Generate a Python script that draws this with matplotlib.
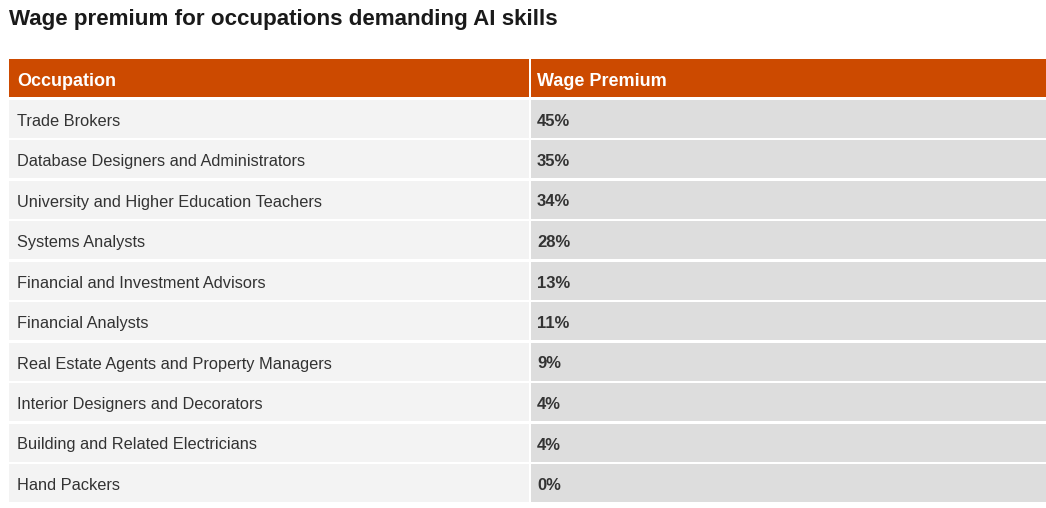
import matplotlib
matplotlib.use("Agg")
import matplotlib.pyplot as plt
from matplotlib.patches import Rectangle

plt.rcParams['font.family'] = ['Liberation Sans', 'DejaVu Sans']

title = "Wage premium for occupations demanding AI skills"
headers = ["Occupation", "Wage Premium"]
occupations = [
    "Trade Brokers",
    "Database Designers and Administrators",
    "University and Higher Education Teachers",
    "Systems Analysts",
    "Financial and Investment Advisors",
    "Financial Analysts",
    "Real Estate Agents and Property Managers",
    "Interior Designers and Decorators",
    "Building and Related Electricians",
    "Hand Packers",
]
premiums = [45, 35, 34, 28, 13, 11, 9, 4, 4, 0]

W, H = 1046, 508
fig = plt.figure(figsize=(W / 100, H / 100), dpi=100)
ax = fig.add_axes([0, 0, 1, 1])
ax.set_xlim(0, W)
ax.set_ylim(H, 0)
ax.axis('off')

# layout in pixels
left, split, right = 9, 529.5, 1046
gap = 2.5
head_top, head_bot = 59, 97
row_top0, row_step = 99.5, 40.5
row_h = row_step - gap
orange = '#CC4A00'
light = '#F3F3F3'
grey = '#DDDDDD'
text_col = '#333333'

ax.text(9, 25, title, fontsize=16.1, fontweight='bold',
        color='#1a1a1a', va='baseline', ha='left')

# header
ax.add_patch(Rectangle((left, head_top), split - left - 1, head_bot - head_top,
                       facecolor=orange, edgecolor='none'))
ax.add_patch(Rectangle((split + 1, head_top), right - split - 1, head_bot - head_top,
                       facecolor=orange, edgecolor='none'))
ax.text(17, 86, headers[0], color='white', fontsize=13, fontweight='bold',
        va='baseline', ha='left')
ax.text(537, 86, headers[1], color='white', fontsize=13, fontweight='bold',
        va='baseline', ha='left')

for i, (occ, val) in enumerate(zip(occupations, premiums)):
    top = row_top0 + i * row_step
    ax.add_patch(Rectangle((left, top), split - left - 1, row_h,
                           facecolor=light, edgecolor='none'))
    ax.add_patch(Rectangle((split + 1, top), right - split - 1, row_h,
                           facecolor=grey, edgecolor='none'))
    base = top + row_h / 2 + 7
    ax.text(17, base, occ, color=text_col, fontsize=11.8, va='baseline', ha='left')
    ax.text(537, base, f"{val}%", color=text_col, fontsize=12, fontweight='bold',
            va='baseline', ha='left')

fig.savefig("out.png", dpi=100, facecolor='white')
